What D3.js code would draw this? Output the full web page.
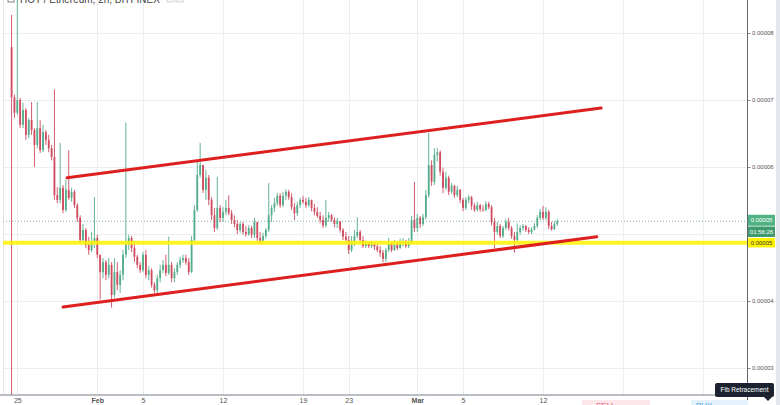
<!DOCTYPE html>
<html><head><meta charset="utf-8">
<script src="https://cdn.jsdelivr.net/npm/d3@7"></script>
<style>
body{margin:0;background:#fff;}
svg{display:block;font-family:"Liberation Sans",Arial,"DejaVu Sans",sans-serif;}
</style>
</head><body>
<svg id="c" width="780" height="405"></svg>
<script>
// ---------- data (prices in micro-ETH, i.e. x 1e-6) ----------
const UNIT = 1e-6;
const chartTitle = "HOT / Ethereum, 2h, BITFINEX";
const firstCandleTime = "2018-01-24T12:00:00Z";
const candleHours = 6;
const firstOpen = 77.9;
const closes = [70.4,68.1,70.0,66.3,68.5,64.8,67.0,65.5,63.3,65.8,62.5,65.2,64.0,62.8,61.5,55.8,55.1,56.9,53.6,56.6,
55.4,56.3,54.3,52.4,49.1,50.6,48.4,47.6,48.8,49.4,46.9,44.3,45.8,43.9,45.4,40.9,44.3,42.4,43.9,46.9,
48.4,49.4,47.9,46.6,45.4,44.6,46.9,43.9,44.6,42.4,41.6,43.4,44.6,45.4,44.2,45.4,43.4,44.3,45.4,46.1,
46.4,45.8,44.3,49.1,53.6,58.8,60.3,56.6,58.4,55.1,52.8,50.9,53.9,52.4,53.3,53.9,53.1,52.1,51.5,50.6,
51.5,50.3,50.0,50.9,49.9,51.8,49.4,49.0,49.7,50.6,52.8,53.9,54.6,55.7,54.3,55.7,56.3,55.5,54.0,53.1,
54.3,55.1,54.8,54.3,55.1,53.9,53.3,52.7,52.1,51.3,52.4,52.8,52.1,51.5,51.9,50.6,49.6,49.1,47.6,48.8,
49.7,50.3,49.1,48.2,48.5,48.2,48.5,48.1,47.6,47.2,46.3,47.6,48.5,47.6,48.4,47.9,48.7,48.8,48.2,48.8,
52.1,50.9,52.4,51.5,52.5,55.8,60.3,57.8,61.8,62.2,59.3,56.9,58.4,56.3,57.2,55.8,56.6,55.1,53.9,55.1,
55.5,54.2,53.6,54.3,53.7,53.6,54.5,54.0,51.8,50.3,51.2,49.7,50.9,51.8,50.9,49.7,49.1,50.3,50.9,51.2,
50.6,50.3,50.7,51.2,52.4,53.3,52.4,53.3,51.2,50.7,51.5,51.9];
const highs = [82.7,70.8,86.5,70.3,69.6,68.8,67.3,69.7,65.8,69.7,67.0,66.3,65.5,64.8,63.3,71.6,57.0,63.6,57.3,58.1,
62.5,56.9,56.6,54.6,52.8,51.5,50.9,49.6,50.3,55.5,49.9,46.9,46.4,46.1,46.4,45.8,46.4,45.8,44.6,47.6,
66.6,49.9,49.7,48.5,46.9,45.8,47.3,47.6,45.2,44.9,42.8,43.9,45.4,46.1,46.9,49.6,45.8,44.9,45.8,46.6,
46.9,46.9,46.4,49.7,54.3,61.0,63.6,60.3,59.6,58.8,55.5,53.9,58.5,54.3,54.0,55.1,55.8,53.6,52.8,52.1,
51.8,51.8,51.2,51.3,51.2,52.4,51.8,50.3,50.2,50.9,57.6,54.3,55.4,56.1,56.1,56.3,56.7,56.6,56.1,54.6,
54.8,55.4,55.7,55.4,55.5,55.1,54.5,54.0,53.3,52.8,55.1,53.3,53.0,52.5,52.4,51.9,50.9,50.3,49.7,49.7,
50.6,52.5,50.6,49.7,49.0,48.8,48.8,48.7,48.5,48.2,47.6,47.9,49.4,48.7,49.1,48.8,49.3,49.4,49.1,49.4,
52.7,57.8,53.0,52.7,53.0,56.6,65.1,61.0,62.8,62.8,62.5,59.9,59.3,58.7,57.6,57.3,57.2,56.7,55.4,55.5,
55.8,55.7,54.6,54.8,54.5,54.3,54.9,54.8,54.3,52.4,51.8,51.5,51.2,52.2,52.4,51.2,50.3,51.6,51.3,51.5,
51.3,51.0,51.0,51.6,52.8,53.7,54.2,54.0,53.6,51.8,51.9,52.2];
const lows = [3.0,67.3,67.8,65.8,65.8,64.0,64.3,64.8,60.0,62.8,62.1,62.2,63.3,62.2,61.0,55.1,54.6,54.6,53.1,53.3,
55.1,54.8,53.9,51.8,48.7,48.8,47.9,46.9,47.3,47.9,46.4,40.2,43.4,43.1,43.4,39.0,40.5,41.6,41.2,43.1,
46.4,47.6,47.3,45.8,44.9,44.2,44.3,43.4,43.1,42.0,41.2,41.1,42.8,44.2,43.7,43.9,42.8,42.8,43.9,44.9,
45.7,45.4,43.9,44.2,48.8,53.3,58.4,56.1,55.1,54.3,52.1,50.3,50.6,51.8,51.8,52.8,52.8,51.5,51.0,50.0,
50.2,49.9,49.6,49.7,49.4,49.4,49.0,48.5,48.5,49.3,50.3,51.8,53.3,54.2,53.9,54.0,55.1,55.1,53.6,52.1,
52.7,53.9,54.5,53.9,54.0,53.4,52.8,52.4,51.6,50.9,51.0,51.8,51.8,51.0,50.9,50.2,49.1,48.5,47.0,47.3,
48.2,49.4,48.8,47.9,47.9,47.9,47.9,47.6,47.3,46.6,45.8,45.8,47.3,47.3,47.5,47.6,47.8,48.1,47.9,47.9,
48.5,50.3,50.3,50.9,51.2,52.2,55.4,57.2,57.3,60.8,58.7,56.1,56.6,55.8,56.0,55.4,55.5,54.6,53.4,53.6,
54.6,53.6,53.3,53.4,53.3,53.3,53.4,53.7,51.3,47.9,49.9,49.4,49.4,50.6,50.5,49.3,47.2,48.8,49.9,50.5,
50.3,50.0,50.0,50.5,50.9,52.1,52.1,52.1,50.7,50.5,50.6,51.2];

// time grid (all) and visible time labels
const gridDates = ["2018-01-25","2018-02-01","2018-02-05","2018-02-12","2018-02-19","2018-02-23",
                   "2018-03-01","2018-03-05","2018-03-12","2018-03-19","2018-03-26"];
const timeTickDates = ["2018-01-25","2018-02-01","2018-02-05","2018-02-12","2018-02-19","2018-02-23",
                       "2018-03-01","2018-03-05","2018-03-12"];
const timeTickLabels = ["25","Feb","5","12","19","23","Mar","5","12"];
const priceGrid = [30,40,50,60,70,80];            // micro-ETH
const priceTickLabelled = [30,40,60,70,80];       // 50 is hidden under the price tags
const trendUpper = [{t:"2018-01-29T08:30:00Z", p:58.4}, {t:"2018-03-17T02:00:00Z", p:68.8}];
const trendLower = [{t:"2018-01-29T00:00:00Z", p:39.1}, {t:"2018-03-16T17:00:00Z", p:49.6}];
const supportLevel = 48.7;
const countdownText = "01:56:26";

// ---------- build candles ----------
const t0 = new Date(firstCandleTime).getTime();
const candles = closes.map((c,i)=>{
  const o = i===0 ? firstOpen : closes[i-1];
  return {t:new Date(t0 + i*candleHours*3600e3), o, c,
          h:Math.max(highs[i],o,c), l:Math.min(lows[i],o,c)};
});
const lastPrice = closes[closes.length-1];

// ---------- layout ----------
const svg = d3.select("#c");
const plotL = 3, plotR = 747, plotT = 0, plotB = 395;
const x = d3.scaleUtc()
  .domain([new Date("2018-01-25T00:00:00Z"), new Date("2018-03-12T00:00:00Z")])
  .range([17.3, 543]);
const y = d3.scaleLinear().domain([30*UNIT, 80*UNIT]).range([368, 33]);
const fmt = d3.format(".5f");
const day = s => new Date(s+"T00:00:00Z");

svg.append("rect").attr("width",780).attr("height",405).attr("fill","#fff");
svg.append("rect").attr("x",776).attr("y",0).attr("width",4).attr("height",405).attr("fill","#e4e7ec");
svg.append("defs").append("clipPath").attr("id","plot")
  .append("rect").attr("x",plotL).attr("y",plotT).attr("width",plotR-plotL).attr("height",plotB-plotT);

// grid
const grid = svg.append("g").attr("stroke","#eceef2").attr("stroke-width",1);
grid.selectAll(".gh").data(priceGrid).join("line")
  .attr("x1",plotL).attr("x2",plotR)
  .attr("y1",d=>Math.round(y(d*UNIT))+0.5).attr("y2",d=>Math.round(y(d*UNIT))+0.5);
grid.selectAll(".gv").data(gridDates).join("line")
  .attr("y1",plotT).attr("y2",plotB)
  .attr("x1",d=>Math.round(x(day(d)))+0.5)
  .attr("x2",d=>Math.round(x(day(d)))+0.5);

// left panel border
svg.append("line").attr("x1",3.5).attr("x2",3.5).attr("y1",0).attr("y2",plotB)
  .attr("stroke","#e2e5ea");

// candles
const up = "#53ad8a", down = "#cf4a5e";
const cg = svg.append("g").attr("clip-path","url(#plot)");
cg.selectAll(".w").data(candles).join("line")
  .attr("x1",d=>x(d.t)).attr("x2",d=>x(d.t))
  .attr("y1",d=>y(d.h*UNIT)).attr("y2",d=>y(d.l*UNIT))
  .attr("stroke",d=>d.c>=d.o?up:down).attr("stroke-width",0.9);
cg.selectAll(".b").data(candles).join("rect")
  .attr("x",d=>x(d.t)-0.9).attr("width",1.8)
  .attr("y",d=>y(Math.max(d.o,d.c)*UNIT))
  .attr("height",d=>Math.max(0.8, Math.abs(y(d.o*UNIT)-y(d.c*UNIT))))
  .attr("fill",d=>d.c>=d.o?up:down);

// current price dotted line
cg.append("line").attr("x1",plotL).attr("x2",plotR)
  .attr("y1",y(lastPrice*UNIT)).attr("y2",y(lastPrice*UNIT))
  .attr("stroke","#6f9f95").attr("stroke-width",0.8).attr("stroke-dasharray","1,2");

// support line (yellow)
cg.append("line").attr("x1",plotL).attr("x2",plotR)
  .attr("y1",y(supportLevel*UNIT)).attr("y2",y(supportLevel*UNIT))
  .attr("stroke","#fff200").attr("stroke-opacity",0.85).attr("stroke-width",4);

// channel lines
const line = d3.line().x(d=>x(new Date(d.t))).y(d=>y(d.p*UNIT));
[trendUpper,trendLower].forEach(tl=>{
  cg.append("path").attr("d",line(tl)).attr("fill","none")
    .attr("stroke","#dd1f1f").attr("stroke-width",3).attr("stroke-linecap","round");
});

// price axis
svg.append("line").attr("x1",747.5).attr("x2",747.5).attr("y1",0).attr("y2",405)
  .attr("stroke","#666").attr("stroke-width",1);
const ya = svg.append("g").attr("transform","translate(747.5,0)")
  .call(d3.axisRight(y).tickValues(priceGrid.map(d=>d*UNIT))
    .tickFormat(d=>priceTickLabelled.some(p=>Math.abs(p*UNIT-d)<1e-9)?fmt(d):"")
    .tickSize(3).tickPadding(1.5));
ya.select(".domain").remove();
ya.selectAll("line").attr("stroke","#888");
ya.selectAll("text").attr("font-size",6).attr("fill","#555");

// time axis
svg.append("line").attr("x1",0).attr("x2",plotR).attr("y1",395).attr("y2",395)
  .attr("stroke","#a3a8b0").attr("stroke-width",1.5);
const xa = svg.append("g").attr("transform","translate(0,395)")
  .call(d3.axisBottom(x).tickValues(timeTickDates.map(day))
    .tickFormat((d,i)=>timeTickLabels[i]).tickSize(0).tickPadding(3));
xa.select(".domain").remove();
xa.selectAll("text").attr("font-size",7).attr("fill","#555")
  .attr("font-weight",(d,i)=>/^[A-Z]/.test(timeTickLabels[i])?"bold":"normal");

// price tags on axis
function priceTag(yc, h, fill, txt, color){
  const g = svg.append("g");
  g.append("rect").attr("x",748).attr("y",yc-h/2).attr("width",27).attr("height",h).attr("fill",fill);
  g.append("text").attr("x",761.5).attr("y",yc).attr("dy","0.35em").attr("text-anchor","middle")
    .attr("font-size",6).attr("fill",color).text(txt);
}
const yLast = y(lastPrice*UNIT);
priceTag(yLast-1, 11, "#4fb283", fmt(lastPrice*UNIT), "#fff");
priceTag(yLast+10.5, 10.5, "#3f9a6f", countdownText, "#fff");
priceTag(y(supportLevel*UNIT), 9.5, "#fff200", fmt(supportLevel*UNIT), "#333");

// title (mostly cut off at top)
svg.append("rect").attr("x",8).attr("y",-6).attr("width",6).attr("height",8)
  .attr("fill","none").attr("stroke","#666").attr("stroke-width",0.8);
svg.append("text").attr("x",20).attr("y",3).attr("font-size",10).attr("fill","#444").text(chartTitle);
[167,176].forEach(bx=>svg.append("rect").attr("x",bx).attr("y",-5).attr("width",7).attr("height",7)
  .attr("fill","#f4f5f7").attr("stroke","#c9cdd3").attr("stroke-width",0.8));

// bottom overlay buttons
svg.append("rect").attr("x",582).attr("y",400).attr("width",68).attr("height",10).attr("fill","#fde7ea");
svg.append("text").attr("x",596).attr("y",408).attr("font-size",8).attr("fill","#e0526a").text("SELL");
svg.append("rect").attr("x",691).attr("y",400).attr("width",57).attr("height",10).attr("fill","#e3f2fb");
svg.append("text").attr("x",696).attr("y",408).attr("font-size",8).attr("fill","#3f9bd1").text("BUY");

// tooltip
const tip = svg.append("g");
tip.append("rect").attr("x",715).attr("y",383).attr("width",59).attr("height",14).attr("rx",2).attr("fill","#1c2230");
tip.append("path").attr("d","M764,397 L768,401 L772,397 Z").attr("fill","#1c2230");
tip.append("text").attr("x",744.5).attr("y",390).attr("dy","0.35em").attr("text-anchor","middle")
  .attr("font-size",6.5).attr("fill","#fff").text("Fib Retracement");
</script>
</body></html>
